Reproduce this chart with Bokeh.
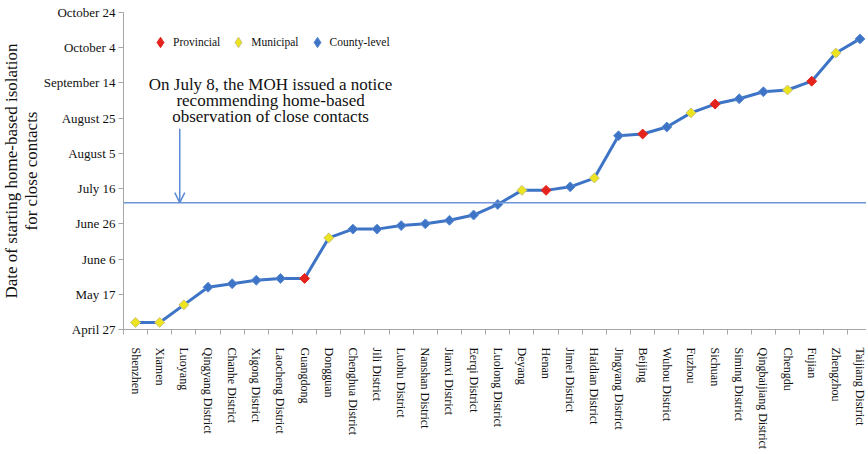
from datetime import date
from math import pi

from bokeh.plotting import figure
from bokeh.models import (ColumnDataSource, Range1d, FixedTicker, Span, Label,
                          Arrow, OpenHead, Legend, LegendItem, Title)
from bokeh.embed import file_html
from bokeh.resources import INLINE

# ---------------- data ----------------
regions = [
    "Shenzhen", "Xiamen", "Luoyang", "Qingyang District", "Chanhe District",
    "Xigong District", "Laocheng District", "Guangdong", "Dongguan",
    "Chenghua District", "Jili District", "Luohu District", "Nanshan District",
    "Jianxi District", "Eerqi District", "Luolong District", "Deyang", "Henan",
    "Jimei District", "Haidian District", "Jingyang District", "Beijing",
    "Wuhou District", "Fuzhou", "Sichuan", "Siming District",
    "Qingbaijiang District", "Chengdu", "Fujian", "Zhengzhou", "Taijiang District",
]
levels = [
    "Municipal", "Municipal", "Municipal", "County-level", "County-level",
    "County-level", "County-level", "Provincial", "Municipal",
    "County-level", "County-level", "County-level", "County-level",
    "County-level", "County-level", "County-level", "Municipal", "Provincial",
    "County-level", "Municipal", "County-level", "Provincial",
    "County-level", "Municipal", "Provincial", "County-level",
    "County-level", "Municipal", "Provincial", "Municipal", "County-level",
]
start_dates = [
    "05-01", "05-01", "05-11", "05-21", "05-23",
    "05-25", "05-26", "05-26", "06-18",
    "06-23", "06-23", "06-25", "06-26",
    "06-28", "07-01", "07-07", "07-15", "07-15",
    "07-17", "07-22", "08-15", "08-16",
    "08-20", "08-28", "09-02", "09-05",
    "09-09", "09-10", "09-15", "10-01", "10-09",
]
tick_dates = ["04-27", "05-17", "06-06", "06-26", "07-16",
              "08-05", "08-25", "09-14", "10-04", "10-24"]
tick_labels = ["April 27", "May 17", "June 6", "June 26", "July 16",
               "August 5", "August 25", "September 14", "October 4", "October 24"]
origin_date = "04-27"
notice_date = "07-08"
notice_lines = ["On July 8, the MOH issued a notice",
                "recommending home-based",
                "observation of close contacts"]
y_title_lines = ["Date of starting home-based isolation", "for close contacts"]
level_order = ["Provincial", "Municipal", "County-level"]
level_fill = {"Provincial": "#e5231d", "Municipal": "#ece41e", "County-level": "#3d74c5"}
level_line = {"Provincial": "#e5231d", "Municipal": "#c8c27a", "County-level": "#5a8bd3"}


def day_offset(md):
    m, d = (int(v) for v in md.split("-"))
    om, od = (int(v) for v in origin_date.split("-"))
    return (date(2009, m, d) - date(2009, om, od)).days


xs = list(range(len(regions)))
days = [day_offset(s) for s in start_dates]
tick_pos = [day_offset(s) for s in tick_dates]

SERIF = "Liberation Serif"
TXT = "#111111"
GREY = "#a6a6a6"

p = figure(width=866, height=452, output_backend="svg", toolbar_location=None,
           x_range=Range1d(-0.5, 30.27), y_range=Range1d(tick_pos[0], tick_pos[-1]),
           min_border_left=123, min_border_right=0, min_border_top=12,
           min_border_bottom=122)
p.outline_line_color = None
p.grid.visible = False

# axes
p.yaxis.ticker = FixedTicker(ticks=tick_pos)
p.yaxis.major_label_overrides = {t: l for t, l in zip(tick_pos, tick_labels)}
p.yaxis.major_label_text_font = SERIF
p.yaxis.major_label_text_font_size = "13px"
p.yaxis.major_label_text_color = TXT
p.yaxis.major_tick_out = 5
p.yaxis.major_tick_in = 0
p.yaxis.minor_tick_line_color = None
p.yaxis.major_tick_line_color = GREY
p.yaxis.axis_line_color = GREY
p.yaxis.major_label_standoff = 3

p.xaxis.ticker = FixedTicker(ticks=xs, minor_ticks=[x - 0.5 for x in xs] + [xs[-1] + 0.5])
p.xaxis.major_label_overrides = {x: r for x, r in zip(xs, regions)}
p.xaxis.major_label_orientation = "vertical"
p.xaxis.major_label_text_font = SERIF
p.xaxis.major_label_text_font_size = "12px"
p.xaxis.major_label_text_color = TXT
p.xaxis.major_tick_out = 0
p.xaxis.major_tick_in = 0
p.xaxis.major_tick_line_color = None
p.xaxis.minor_tick_out = 5
p.xaxis.minor_tick_in = 0
p.xaxis.minor_tick_line_color = GREY
p.xaxis.axis_line_color = GREY
p.xaxis.major_label_standoff = 13

# y title (two lines, inner line added first)
for txt in reversed(y_title_lines):
    p.add_layout(Title(text=txt, align="center", text_font=SERIF,
                       text_font_size="17px", text_font_style="normal",
                       text_color=TXT, standoff=-1, offset=0), "left")

# notice line and arrow
notice_day = day_offset(notice_date)
p.add_layout(Span(location=notice_day, dimension="width",
                  line_color="#6d96d8", line_width=1.5))
p.add_layout(Arrow(end=OpenHead(size=10, line_color="#5b8ad6", line_width=1.5),
                   x_start=1.83, y_start=114, x_end=1.83, y_end=notice_day,
                   line_color="#5b8ad6", line_width=1.5))
for txt, yy in zip(notice_lines, [139.0, 130.0, 121.0]):
    p.add_layout(Label(x=5.59, y=yy, text=txt, text_align="center",
                       text_baseline="middle", text_font=SERIF,
                       text_font_size="17px", text_color=TXT))

# data line
src = ColumnDataSource(dict(x=xs, day=days, region=regions, level=levels))
p.line(x="x", y="day", source=src, line_color="#3d74c5", line_width=3)

NAN = float("nan")
items = []
for lv in level_order:
    idx = [i for i, l in enumerate(levels) if l == lv]
    s = ColumnDataSource(dict(x=[xs[i] for i in idx], day=[days[i] for i in idx]))
    p.scatter(x="x", y="day", source=s, marker="square", angle=pi / 4, size=7,
              fill_color=level_fill[lv], line_color=level_line[lv], line_width=1)
    # legend swatch (diamond shape, not drawn in the plot area)
    key = p.scatter(x="x", y="day", source=ColumnDataSource(dict(x=[NAN], day=[NAN])),
                    marker="diamond", fill_color=level_fill[lv],
                    line_color=level_line[lv], line_width=1)
    items.append(LegendItem(label=lv, renderers=[key]))

legend = Legend(items=items, location=(24, 274), orientation="horizontal",
                glyph_width=26, glyph_height=26, label_height=26, label_standoff=0,
                spacing=5, padding=0, margin=0, border_line_color=None,
                background_fill_alpha=0, label_text_font=SERIF,
                label_text_font_size="11.5px", label_text_color=TXT)
p.add_layout(legend)

open("out.html", "w").write(file_html(p, INLINE))
